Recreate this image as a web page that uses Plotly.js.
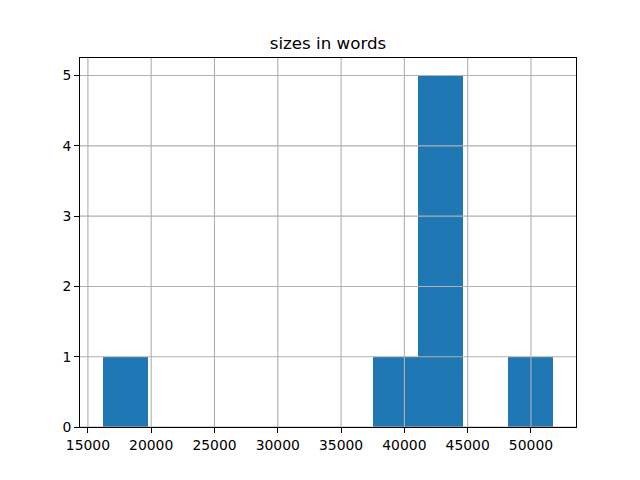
<!DOCTYPE html>
<html>
<head>
<meta charset="utf-8">
<script src="https://cdn.plot.ly/plotly-3.0.1.min.js"></script>
<style>html,body{margin:0;padding:0;background:#fff;}#chart{width:640px;height:480px;}</style>
</head>
<body>
<div id="chart"></div>
<script>
// Histogram bin edges (words) and counts per bin
const binEdges = [16157, 19719, 23281, 26843, 30405, 33967, 37529, 41091, 44653, 48215, 51777];
const counts = [1, 0, 0, 0, 0, 0, 1, 5, 0, 1];
const xTicks = [15000, 20000, 25000, 30000, 35000, 40000, 45000, 50000];
const yTicks = [0, 1, 2, 3, 4, 5];
const titleText = "sizes in words";

const centers = [], widths = [];
for (let i = 0; i < counts.length; i++) {
  centers.push((binEdges[i] + binEdges[i + 1]) / 2);
  widths.push(binEdges[i + 1] - binEdges[i]);
}
const lo = binEdges[0], hi = binEdges[binEdges.length - 1];
const pad = (hi - lo) * 0.05;
const ymax = Math.max(...counts) * 1.05;

const gridColor = '#b0b0b0';
const shapes = [];
xTicks.forEach(v => shapes.push({type: 'line', xref: 'x', yref: 'paper', x0: v, x1: v, y0: 0, y1: 1,
  line: {color: gridColor, width: 1.1}, layer: 'above'}));
yTicks.forEach(v => shapes.push({type: 'line', xref: 'paper', yref: 'y', x0: 0, x1: 1, y0: v, y1: v,
  line: {color: gridColor, width: 1.1}, layer: 'above'}));

const font = {family: 'DejaVu Sans', size: 13.9, color: '#000'};
Plotly.newPlot('chart', [{
  type: 'bar', x: centers, y: counts, width: widths,
  marker: {color: '#1f77b4', line: {width: 0}},
  hoverinfo: 'x+y'
}], {
  width: 640, height: 480,
  margin: {l: 80, r: 64, t: 58, b: 53, pad: 0},
  paper_bgcolor: '#fff', plot_bgcolor: '#fff',
  font: font,
  showlegend: false,
  bargap: 0,
  title: {text: titleText, font: {family: 'DejaVu Sans', size: 16.7, color: '#000'},
    x: 0.5, xref: 'paper', xanchor: 'center', y: 1, yref: 'paper', yanchor: 'bottom', pad: {b: 9}},
  xaxis: {range: [lo - pad, hi + pad], tickvals: xTicks, ticktext: xTicks.map(String),
    showgrid: false, zeroline: false, showline: true, mirror: true, linecolor: '#000', linewidth: 1,
    ticks: 'outside', ticklen: 5, tickwidth: 1, tickcolor: '#000', tickfont: font},
  yaxis: {range: [0, ymax], tickvals: yTicks, ticktext: yTicks.map(String),
    showgrid: false, zeroline: false, showline: true, mirror: true, linecolor: '#000', linewidth: 1,
    ticks: 'outside', ticklen: 5, tickwidth: 1, tickcolor: '#000', tickfont: font},
  shapes: shapes
}, {displayModeBar: false, staticPlot: true});
</script>
</body>
</html>
